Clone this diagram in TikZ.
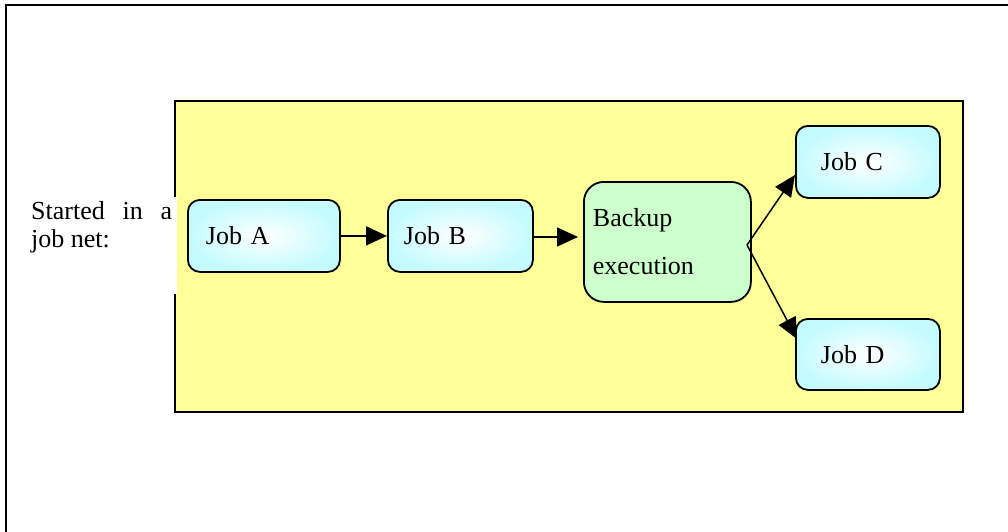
\documentclass[tikz,border=0pt]{standalone}
\usepackage{fontspec}
\setmainfont{Liberation Serif}
\usetikzlibrary{arrows.meta,calc}

\definecolor{panelyellow}{HTML}{FFFF99}
\definecolor{jobcyan}{HTML}{C4FBFF}
\definecolor{backupgreen}{HTML}{CCFFCC}

\tikzset{
  jobbox/.style={draw=black, line width=1.8pt, rounded corners=12pt,
    inner color=white, outer color=jobcyan,
    anchor=north west, minimum height=72pt, inner ysep=0pt,
    align=left, font=\fontsize{26}{30}\selectfont},
  flow/.style={draw=black, line width=1.5pt,
    -{Triangle[length=21pt,width=19pt]}},
}

\begin{document}
\begin{tikzpicture}[x=1pt,y=-1pt]
  \useasboundingbox (0,0) rectangle (1008,532);

  % page frame (left and top edges)
  \draw[line width=1.8pt] (6,532) -- (6,5) -- (1008,5);

  % job net panel
  \draw[line width=1.8pt, fill=panelyellow] (175,101) rectangle (963,412);
  \fill[white] (168,197) rectangle (176.8,294);

  \node[anchor=north west, inner sep=0pt, text width=141pt, align=justify,
        font=\fontsize{26}{28}\selectfont] (lbl) at (31,201)
        {Started in a job net:};

  % jobs
  \node[jobbox, text width=116pt, inner xsep=18pt] (a) at (187,199) {Job A};
  \node[jobbox, text width=113pt, inner xsep=16pt] (b) at (387,199) {Job B};
  \node[draw=black, line width=1.8pt, rounded corners=20pt, fill=backupgreen,
        anchor=north west, minimum height=120pt, text width=149pt,
        inner xsep=9pt, inner ysep=0pt, align=left,
        font=\fontsize{26}{48}\selectfont] (bk) at (583,181)
        {Backup\\execution};
  \node[jobbox, text width=94pt, inner xsep=25pt] (c) at (795,125) {Job C};
  \node[jobbox, text width=94pt, inner xsep=25pt, minimum height=71pt] (d) at (795,318) {Job D};

  % connectors
  \coordinate (fk) at (747,245);
  \coordinate (ct) at (c.west |- 0,175);
  \coordinate (dt) at (797,339);
  \coordinate (bkin) at (578,237);

  \draw[flow] (a.east) -- (b.west);
  \draw[flow] (b.east |- bkin) -- (bkin);
  \draw[flow] (fk) -- (ct);
  \draw[flow] (fk) -- (dt);
\end{tikzpicture}
\end{document}
